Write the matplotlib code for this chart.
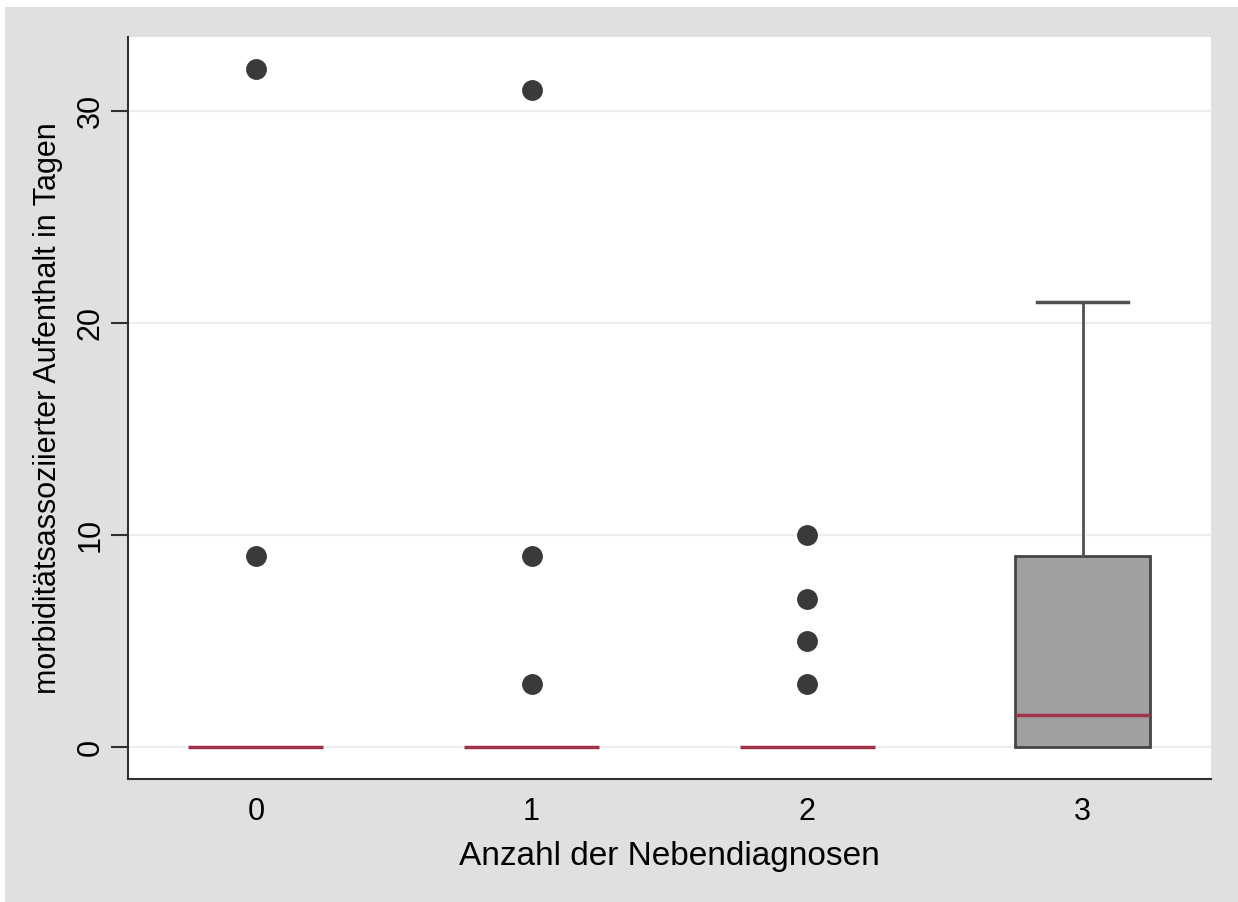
import matplotlib
matplotlib.use("Agg")
import matplotlib.pyplot as plt
from matplotlib.patches import Rectangle

plt.rcParams['font.family'] = ['Liberation Sans', 'DejaVu Sans']

# Box-plot statistics per number of secondary diagnoses
categories = [0, 1, 2, 3]
q1 = [0, 0, 0, 0]
median = [0, 0, 0, 1.5]
q3 = [0, 0, 0, 9]
whisker_low = [0, 0, 0, 0]
whisker_high = [0, 0, 0, 21]
outliers = [
    [32, 9],
    [31, 9, 3],
    [10, 7, 5, 3],
    [],
]
y_ticks = [0, 10, 20, 30]
x_label = "Anzahl der Nebendiagnosen"
y_label = "morbiditätsassoziierter Aufenthalt in Tagen"

MEDIAN_COLOR = '#a0344a'

W, H = 1238, 902
fig = plt.figure(figsize=(W / 100, H / 100), dpi=100)
fig.patch.set_facecolor('white')
# grey graph region with thin white margin on the top and left
fig.patches.append(Rectangle((5 / W, 0), 1 - 5 / W, 1 - 7 / H,
                             transform=fig.transFigure, facecolor='#e0e0e0',
                             edgecolor='none', linewidth=0, zorder=-10))

ax = fig.add_axes([128 / W, 1 - 779 / H, (1211 - 128) / W, (779 - 37) / H])
ax.set_facecolor('white')

stats = []
for i, c in enumerate(categories):
    stats.append(dict(label=str(c), med=median[i], q1=q1[i], q3=q3[i],
                      whislo=whisker_low[i], whishi=whisker_high[i],
                      fliers=outliers[i]))

parts = ax.bxp(stats, positions=categories, widths=0.49, patch_artist=True,
               showfliers=True, manage_ticks=False,
               boxprops=dict(facecolor='#a0a0a0', edgecolor='#454545', linewidth=2),
               medianprops=dict(color=MEDIAN_COLOR, linewidth=2.5,
                                solid_capstyle='butt', zorder=4),
               whiskerprops=dict(color='#505050', linewidth=2),
               capprops=dict(color='#505050', linewidth=2.5),
               capwidths=0.33,
               flierprops=dict(marker='o', markersize=14,
                               markerfacecolor='#3a3a3a',
                               markeredgecolor='#3a3a3a'))

# collapsed boxes (all quartiles equal) show only their median line
for i in range(len(categories)):
    if q1[i] == q3[i]:
        parts['boxes'][i].set_visible(False)
        parts['whiskers'][2 * i].set_visible(False)
        parts['whiskers'][2 * i + 1].set_visible(False)
        parts['caps'][2 * i].set_visible(False)
        parts['caps'][2 * i + 1].set_visible(False)
    else:
        # lower whisker coincides with the box bottom
        if whisker_low[i] == q1[i]:
            parts['caps'][2 * i].set_visible(False)

ax.set_xlim(-0.464, 3.465)
ax.set_ylim(-1.5, 33.5)
ax.set_yticks(y_ticks)
ax.set_xticks(categories)
ax.set_xticklabels([str(c) for c in categories])
ax.yaxis.grid(True, color='#eaf0f2', linewidth=1.5, zorder=0)
ax.set_axisbelow(True)

for s in ['top', 'right']:
    ax.spines[s].set_visible(False)
for s in ['left', 'bottom']:
    ax.spines[s].set_color('#303030')
    ax.spines[s].set_linewidth(1.5)

ax.tick_params(axis='y', length=12, width=1.5, color='#303030', labelsize=22,
               pad=4, labelrotation=90)
for lbl in ax.get_yticklabels():
    lbl.set_va('center')
ax.tick_params(axis='x', length=0, labelsize=22, pad=13)

ax.set_xlabel(x_label, fontsize=24, labelpad=10)
ax.set_ylabel(y_label, fontsize=22, labelpad=9)

fig.savefig('out.png', dpi=100, facecolor=fig.get_facecolor())
